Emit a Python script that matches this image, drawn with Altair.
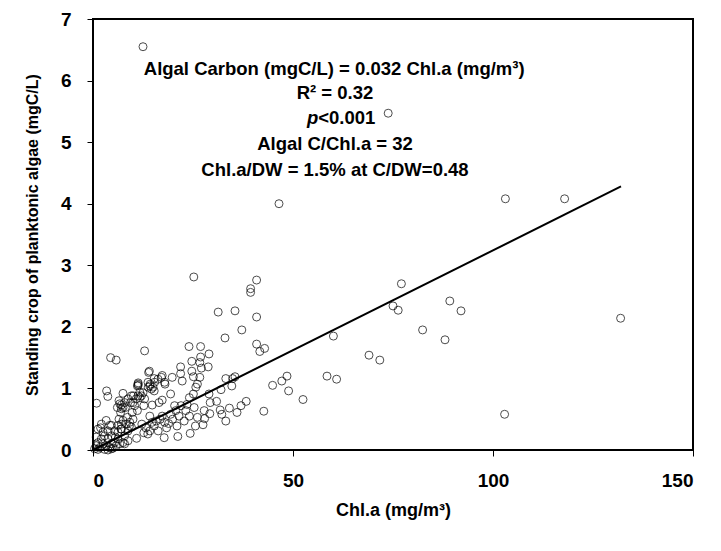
import altair as alt
import pandas as pd

# Scatter data (Chl.a mg/m3, algal carbon mgC/L)
chl = [
    12.5, 73.8, 46.5, 103.1, 117.9, 131.9, 102.9, 77.1, 89.2, 92.0, 75.0, 76.3, 82.4, 88.0,
    69.0, 71.7, 60.1, 58.5, 60.9, 52.5, 48.9, 48.5, 47.2, 44.9, 42.7, 42.9, 41.7, 40.9, 40.9,
    40.9, 39.4, 39.4, 25.2, 37.2, 35.5, 31.3, 33.0, 24.0, 26.9, 29.0, 26.9, 12.9, 4.4, 5.8,
    0.9, 3.4, 3.7, 38.3, 37.0, 36.0, 34.1, 33.2, 32.2, 31.8, 30.9, 29.3, 29.2, 27.8, 27.9,
    27.5, 24.3, 21.2, 17.8, 34.7, 34.9, 35.5, 33.2, 32.0, 29.0, 28.8, 27.1, 26.7, 24.7, 24.7,
    25.1, 26.7, 26.1, 25.7, 21.9, 21.9, 19.8, 22.3, 18.0, 17.3, 15.3, 14.1, 14.3, 13.8, 11.3,
    11.3, 15.3, 19.4, 24.1, 25.1, 17.3, 16.5, 14.8, 12.5, 11.7, 10.1, 9.4, 7.5, 6.5, 6.1,
    7.1, 8.1, 9.8, 11.1, 12.7, 8.6, 6.5, 9.1, 7.0, 10.9, 1.9,
    12.2, 13.2, 14.2, 15.3, 15.8, 16.8, 17.9, 18.4, 19.4, 19.9, 20.7, 21.5, 21.0, 22.8, 23.2,
    24.1, 25.3, 26.1, 25.6, 23.5, 22.0, 13.7, 12.7, 16.3, 14.8, 18.9, 17.3, 20.4, 14.2,
    6.7, 7.1, 6.9, 7.5, 7.9, 8.75, 9.6, 10.0, 10.4, 10.8, 11.25, 11.7, 11.1, 11.25, 12.1,
    12.9, 13.75, 14.2, 14.6, 15.0, 15.4, 16.25, 17.1, 17.9, 13.9,
    4.6, 5.4, 6.25, 7.1, 7.9, 8.75, 9.6, 7.5, 8.3, 9.2, 10.0, 6.25, 5.4, 4.6, 3.75, 2.9,
    2.1, 1.25, 0.8, 1.7, 2.5, 3.3, 4.2, 5.0, 5.8, 6.7, 7.5, 1.25, 2.5, 3.75, 4.6, 5.6, 0.8,
    2.1, 3.3, 4.2, 6.25, 7.1, 7.9, 8.75, 0.4, 1.25, 2.9, 3.75, 4.6,
]
carbon = [
    6.55, 5.47, 4.00, 4.08, 4.08, 2.14, 0.58, 2.70, 2.42, 2.26, 2.34, 2.27, 1.95, 1.79,
    1.54, 1.46, 1.85, 1.20, 1.15, 0.82, 0.96, 1.20, 1.12, 1.05, 0.63, 1.65, 1.60, 1.72, 2.16,
    2.76, 2.62, 2.56, 2.81, 1.95, 2.26, 2.24, 1.82, 1.68, 1.68, 1.56, 1.51, 1.61, 1.50, 1.46,
    0.76, 0.96, 0.87, 0.79, 0.72, 0.61, 0.68, 0.47, 0.58, 0.65, 0.79, 0.77, 0.59, 0.64, 0.51,
    0.41, 0.27, 0.22, 0.20, 1.04, 1.16, 1.19, 1.16, 0.98, 0.91, 1.35, 1.33, 1.42, 1.44, 1.28,
    1.19, 1.18, 1.07, 1.02, 1.35, 1.24, 1.18, 1.12, 1.07, 1.21, 1.16, 1.28, 1.07, 1.02, 1.09,
    1.05, 0.96, 0.91, 0.85, 0.91, 0.81, 0.77, 0.73, 0.93, 0.85, 0.88, 0.77, 0.92, 0.80, 0.69,
    0.73, 0.69, 0.61, 0.64, 0.72, 0.53, 0.50, 0.39, 0.34, 0.19, 0.36,
    0.42, 0.36, 0.31, 0.39, 0.47, 0.50, 0.45, 0.36, 0.58, 0.50, 0.64, 0.55, 0.39, 0.47, 0.64,
    0.55, 0.69, 0.53, 0.39, 0.74, 0.72, 0.26, 0.28, 0.31, 0.45, 0.43, 0.55, 0.72, 0.55,
    0.75, 0.67, 0.61, 0.69, 0.77, 0.83, 0.88, 0.77, 0.72, 0.83, 0.88, 0.94, 1.04, 1.07, 0.88,
    0.83, 1.10, 1.04, 0.99, 1.02, 1.10, 1.15, 1.18, 1.10, 1.26,
    0.40, 0.31, 0.29, 0.34, 0.23, 0.31, 0.37, 0.48, 0.42, 0.45, 0.50, 0.18, 0.12, 0.10, 0.18, 0.23,
    0.18, 0.12, 0.07, 0.04, 0.10, 0.07, 0.04, 0.03, 0.07, 0.10, 0.12, 0.34, 0.29, 0.31, 0.23, 0.21, 0.21,
    0.42, 0.48, 0.40, 0.40, 0.42, 0.10, 0.15, 0.02, 0.01, 0.01, 0.00, 0.02,
]

# Regression line end points
fit_x = [0.0, 132.0]
fit_y = [0.0, 4.28]

# Annotation lines
ann_text = [
    "Algal Carbon (mgC/L) = 0.032 Chl.a (mg/m³)",
    "R² = 0.32",
    "Algal C/Chl.a = 32",
    "Chl.a/DW  = 1.5% at C/DW=0.48",
]
ann_x = [60.3, 60.5, 60.5, 60.5]
ann_y = [6.19, 5.80, 4.97, 4.55]

FONT = "Liberation Sans"

pts = pd.DataFrame({"chl": chl, "c": carbon})
fit = pd.DataFrame({"chl": fit_x, "c": fit_y})
ann = pd.DataFrame({"t": ann_text, "x": ann_x, "y": ann_y})
p_df = pd.DataFrame({"x": [56.3], "y": [5.39]})

xscale = alt.Scale(domain=[0, 150], nice=False)
yscale = alt.Scale(domain=[0, 7], nice=False)

xaxis = alt.Axis(
    title="Chl.a (mg/m³)", values=[0, 50, 100, 150], format="d", grid=False, tickSize=6,
    labelFontSize=19, labelFontWeight="bold", labelFont=FONT, labelColor="black",
    titleFontSize=18, titleFontWeight="bold", titleFont=FONT, titleColor="black",
    labelPadding=15, titlePadding=11, domainColor="black", tickColor="black",
)
yaxis = alt.Axis(
    title="Standing crop of planktonic algae (mgC/L)", values=list(range(8)), format="d",
    grid=False, tickSize=6, labelFontSize=19, labelFontWeight="bold", labelFont=FONT,
    labelColor="black", titleFontSize=16, titleFontWeight="bold", titleFont=FONT,
    titleColor="black", labelPadding=16, titlePadding=20, domainColor="black",
    tickColor="black",
)

scatter = alt.Chart(pts).mark_point(
    shape="circle", filled=False, color="black", strokeWidth=1, size=64
).encode(
    x=alt.X("chl:Q", scale=xscale, axis=xaxis),
    y=alt.Y("c:Q", scale=yscale, axis=yaxis),
)

line = alt.Chart(fit).mark_line(color="black", strokeWidth=2).encode(
    x=alt.X("chl:Q", scale=xscale), y=alt.Y("c:Q", scale=yscale)
)

text = alt.Chart(ann).mark_text(
    font=FONT, fontSize=18.5, fontWeight="bold", color="black", align="center", baseline="middle"
).encode(x=alt.X("x:Q", scale=xscale), y=alt.Y("y:Q", scale=yscale), text="t:N")

p_it = alt.Chart(p_df).mark_text(
    font=FONT, fontSize=18.5, fontWeight="bold", fontStyle="italic", color="black",
    align="right", baseline="middle", text="p"
).encode(x=alt.X("x:Q", scale=xscale), y=alt.Y("y:Q", scale=yscale))
p_val = alt.Chart(p_df).mark_text(
    font=FONT, fontSize=18.5, fontWeight="bold", color="black",
    align="left", baseline="middle", text="<0.001"
).encode(x=alt.X("x:Q", scale=xscale), y=alt.Y("y:Q", scale=yscale))

chart = alt.layer(scatter, line, text, p_it, p_val).properties(
    width=600, height=431, background="white",
    padding={"left": 16, "top": 2, "right": 5, "bottom": 5},
).configure_view(stroke="black", strokeWidth=2)

chart.save("out.html", embed_options={"renderer": "svg", "actions": False})
